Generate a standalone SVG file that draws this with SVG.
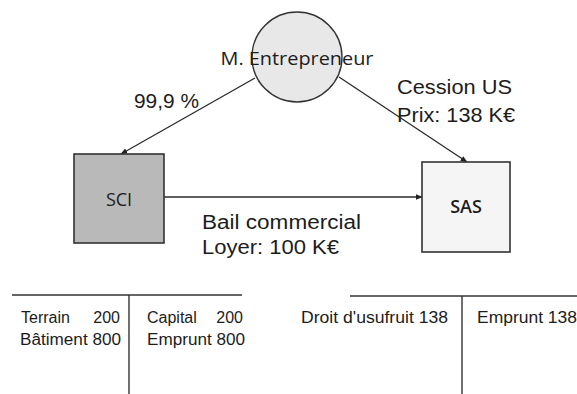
<svg xmlns="http://www.w3.org/2000/svg" width="577" height="394" viewBox="0 0 577 394">
<defs>
<style>
.ln{stroke:#2a2a2a;stroke-width:1.3;fill:none}
.lbl{font-family:"Liberation Sans",Arial,sans-serif;fill:#1c1c1c}
.big{font-size:20px}
.sm{font-size:16px}
.nd{font-family:"Open Sans","Noto Sans",sans-serif;fill:#1c1c1c;text-anchor:middle}
.tl{stroke:#333;stroke-width:1.4}
</style>
<marker id="ah" viewBox="0 0 10 10" refX="9" refY="5" markerWidth="7" markerHeight="7" orient="auto" markerUnits="userSpaceOnUse">
<path d="M0,1 L10,5 L0,9 z" fill="#222"/>
</marker>
</defs>
<rect width="577" height="394" fill="#fff"/>
<g id="connectors">
<line class="ln" x1="255" y1="78" x2="121" y2="154" marker-end="url(#ah)"/>
<line class="ln" x1="339" y1="77" x2="467" y2="162" marker-end="url(#ah)"/>
<line class="ln" x1="164" y1="197" x2="422" y2="197" marker-end="url(#ah)"/>
<text class="lbl big" x="134" y="108" textLength="65" lengthAdjust="spacingAndGlyphs">99,9 %</text>
<text class="lbl big" x="397" y="94" textLength="115" lengthAdjust="spacingAndGlyphs">Cession US</text>
<text class="lbl big" x="397" y="122" textLength="118" lengthAdjust="spacingAndGlyphs">Prix: 138 K€</text>
<text class="lbl big" x="202" y="229" textLength="159" lengthAdjust="spacingAndGlyphs">Bail commercial</text>
<text class="lbl big" x="202" y="254" textLength="137" lengthAdjust="spacingAndGlyphs">Loyer: 100 K€</text>
</g>
<g id="entrepreneur">
<circle cx="297" cy="57" r="45" fill="#e8e8e8" stroke="#333" stroke-width="1.4"/>
<text class="nd" x="297" y="65" font-size="19" font-weight="500" textLength="153" lengthAdjust="spacingAndGlyphs">M. Entrepreneur</text>
</g>
<g id="sci">
<rect x="74" y="154" width="90" height="89" fill="#b9b9b9" stroke="#333" stroke-width="1.6"/>
<text class="nd" x="119" y="206" font-size="18" font-weight="500">SCI</text>
</g>
<g id="sas">
<rect x="422" y="162" width="88" height="90" fill="#f5f5f5" stroke="#333" stroke-width="1.6"/>
<text class="nd" x="466" y="213" font-size="18" font-weight="600">SAS</text>
</g>
<g id="bilan-sci">
<line class="tl" x1="12" y1="295" x2="242" y2="295"/>
<line class="tl" x1="129" y1="295" x2="129" y2="394"/>
<text class="lbl sm" x="21" y="323">Terrain</text>
<text class="lbl sm" x="120" y="323" text-anchor="end">200</text>
<text class="lbl sm" x="20" y="345" textLength="101" lengthAdjust="spacingAndGlyphs">Bâtiment 800</text>
<text class="lbl sm" x="147" y="323">Capital</text>
<text class="lbl sm" x="243" y="323" text-anchor="end">200</text>
<text class="lbl sm" x="147" y="345" textLength="98" lengthAdjust="spacingAndGlyphs">Emprunt 800</text>
</g>
<g id="bilan-sas">
<line class="tl" x1="350" y1="296" x2="577" y2="296"/>
<line class="tl" x1="462" y1="296" x2="462" y2="394"/>
<text class="lbl sm" x="301" y="323" textLength="147" lengthAdjust="spacingAndGlyphs">Droit d'usufruit 138</text>
<text class="lbl sm" x="477" y="323" textLength="100" lengthAdjust="spacingAndGlyphs">Emprunt 138</text>
</g>
</svg>
